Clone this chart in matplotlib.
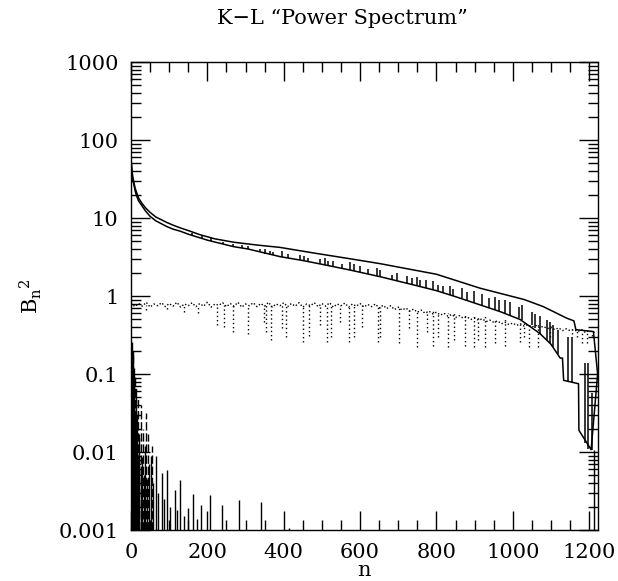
import matplotlib
matplotlib.use("Agg")
import matplotlib.pyplot as plt
from matplotlib.ticker import MultipleLocator, LogLocator, FuncFormatter, NullFormatter

plt.rcParams.update({
    "font.family": "serif",
    "font.serif": ["DejaVu Serif"],
    "mathtext.fontset": "dejavuserif",
    "font.size": 15,
    "lines.linewidth": 1.0,
})

# smooth upper curve
upper_n = [0, 1, 2, 3, 5, 8, 11, 15, 20, 28, 38, 50, 65, 93, 110, 128, 150, 181, 220, 268,
           330, 390, 480, 574, 652, 800, 914, 967, 1030, 1080, 1141, 1160, 1165, 1211, 1222]
upper_v = [60, 50, 44, 39, 33, 28, 24, 21, 18, 15.6, 13.5, 11.8, 10.3, 8.8, 8.1, 7.5, 6.9, 6.1,
           5.4, 4.9, 4.5, 4.2, 3.55, 3.0, 2.6, 1.9, 1.26, 1.08, 0.9, 0.73, 0.52, 0.48, 0.37, 0.35, 0.10]

# noisy lower curve (baseline)
lower_n = [0, 1, 2, 3, 5, 8, 11, 15, 20, 28, 38, 50, 65, 93, 110, 128, 150, 200, 268, 307,
           390, 450, 500, 574, 652, 700, 750, 800, 850, 914, 967, 1019, 1071, 1100, 1124, 1130,
           1133, 1172, 1173, 1205, 1222]
lower_v = [57, 47, 41, 36, 30.5, 26, 22, 19, 16.5, 14.5, 12.3, 10.5, 9.2, 7.8, 7.2, 6.8, 6.2,
           5.2, 4.3, 4.0, 3.2, 2.85, 2.55, 2.15, 1.77, 1.55, 1.35, 1.17, 0.98, 0.77, 0.63, 0.50,
           0.33, 0.24, 0.16, 0.16, 0.083, 0.075, 0.019, 0.0107, 0.1]

# upward spikes on the lower curve
spike_n = [160, 185, 210, 242, 268, 290, 307, 338, 351, 364, 373, 395, 412, 443, 452, 464, 495,
           508, 517, 530, 552, 574, 583, 600, 620, 644, 652, 683, 696, 722, 735, 748, 756, 773,
           791, 804, 818, 835, 844, 866, 880, 897, 919, 937, 954, 963, 980, 993, 1015, 1024, 1050,
           1058, 1071, 1089, 1098, 1106, 1119, 1145, 1154, 1189, 1198, 1207]
spike_base = [6.0, 5.6, 5.1, 4.6, 4.3, 4.15, 4.0, 3.65, 3.5, 3.4, 3.35, 3.2, 3.08, 2.9, 2.85,
              2.78, 2.6, 2.5, 2.45, 2.4, 2.27, 2.15, 2.1, 2.02, 1.92, 1.8, 1.77, 1.62, 1.57, 1.46,
              1.40, 1.36, 1.33, 1.27, 1.2, 1.15, 1.10, 1.04, 1.0, 0.93, 0.88, 0.82, 0.76, 0.71,
              0.66, 0.64, 0.6, 0.57, 0.52, 0.49, 0.42, 0.39, 0.33, 0.27, 0.25, 0.22, 0.18, 0.08,
              0.079, 0.013, 0.011, 0.0107]
spike_top = [6.4, 6.0, 5.5, 4.9, 4.7, 4.45, 4.4, 4.05, 4.05, 3.8, 3.7, 3.8, 3.45, 3.35, 3.3,
             3.05, 3.0, 3.05, 2.85, 2.8, 2.6, 2.75, 2.55, 2.42, 2.2, 2.3, 2.15, 1.88, 2.0, 1.78,
             1.71, 1.74, 1.62, 1.62, 1.54, 1.40, 1.36, 1.33, 1.22, 1.25, 1.12, 1.16, 1.07, 0.95,
             0.98, 0.90, 0.89, 0.83, 0.73, 0.76, 0.63, 0.58, 0.55, 0.49, 0.46, 0.42, 0.37, 0.30,
             0.30, 0.14, 0.14, 0.057]

# dotted series (band around 0.75)
dot_n = list(range(0, 1221, 10))
dot_v = [0.82, 0.73, 0.80, 0.74, 0.83, 0.72, 0.79, 0.75, 0.82, 0.73, 0.80, 0.74, 0.83, 0.72,
         0.79, 0.75, 0.82, 0.73, 0.80, 0.74, 0.83, 0.72, 0.79, 0.76, 0.82, 0.73, 0.80, 0.74,
         0.83, 0.72, 0.79, 0.75, 0.82, 0.73, 0.80, 0.74, 0.83, 0.72, 0.79, 0.75, 0.82, 0.73,
         0.80, 0.74, 0.82, 0.72, 0.79, 0.75, 0.82, 0.73, 0.80, 0.74, 0.82, 0.72, 0.79, 0.75,
         0.81, 0.72, 0.79, 0.74, 0.80, 0.72, 0.78, 0.73, 0.79, 0.70, 0.76, 0.69, 0.75, 0.67,
         0.72, 0.66, 0.70, 0.64, 0.68, 0.62, 0.66, 0.60, 0.64, 0.59, 0.62, 0.57, 0.60, 0.55,
         0.58, 0.53, 0.56, 0.52, 0.54, 0.50, 0.52, 0.49, 0.51, 0.47, 0.49, 0.46, 0.48, 0.44,
         0.46, 0.43, 0.45, 0.42, 0.44, 0.41, 0.43, 0.40, 0.42, 0.39, 0.41, 0.38, 0.40, 0.37,
         0.39, 0.36, 0.38, 0.36, 0.37, 0.35, 0.37, 0.34, 0.36, 0.34, 0.35]

# downward dips of the dotted series
dip_n = [40, 95, 140, 176, 224, 244, 268, 307, 347, 354, 366, 395, 406, 451, 465, 495, 513, 523,
         548, 572, 584, 604, 648, 652, 703, 727, 748, 775, 790, 805, 831, 845, 875, 897, 910, 927,
         954, 980, 1019, 1028, 1041, 1067, 1098, 1155, 1168, 1181, 1194, 1207]
dip_low = [0.66, 0.68, 0.63, 0.60, 0.42, 0.40, 0.35, 0.33, 0.46, 0.35, 0.27, 0.39, 0.30, 0.26,
           0.31, 0.42, 0.26, 0.30, 0.46, 0.26, 0.30, 0.40, 0.26, 0.30, 0.25, 0.39, 0.22, 0.35,
           0.23, 0.30, 0.22, 0.27, 0.23, 0.22, 0.27, 0.22, 0.25, 0.23, 0.26, 0.30, 0.22, 0.22,
           0.30, 0.33, 0.30, 0.25, 0.25, 0.31]
dip_top = [0.76] * 22 + [0.73, 0.73, 0.70, 0.68, 0.67, 0.65, 0.64, 0.63, 0.61, 0.60, 0.58, 0.56,
                         0.56, 0.55, 0.53, 0.51, 0.48, 0.47, 0.46, 0.44, 0.42, 0.38, 0.37, 0.37,
                         0.36, 0.35]

# small coefficients near the bottom (solid)
bot_n = [1, 2, 3, 4, 5, 6, 7, 8, 9, 10, 12, 13, 15, 17, 19, 22, 25, 28, 33, 36, 42, 47, 52, 58,
         65, 72, 80, 87, 94, 102, 114, 121, 128, 140, 148, 163, 174, 183, 207, 238, 284, 341, 414, 1212]
bot_top = [0.15, 0.09, 0.26, 0.12, 0.2, 0.06, 0.1, 0.04, 0.08, 0.03, 0.05, 0.02, 0.012, 0.03,
           0.008, 0.015, 0.006, 0.0086, 0.005, 0.012, 0.0045, 0.007, 0.0088, 0.004, 0.0089, 0.003,
           0.0054, 0.0025, 0.0058, 0.002, 0.0033, 0.0018, 0.0044, 0.0015, 0.0019, 0.0029, 0.0014,
           0.0021, 0.0028, 0.0021, 0.0024, 0.0023, 0.00105, 0.0107]

# small coefficients near the bottom (dashed)
dash_n = [4, 8, 11, 14, 18, 21, 26, 31, 38, 44, 56]
dash_top = [0.2, 0.12, 0.1, 0.07, 0.05, 0.017, 0.04, 0.02, 0.032, 0.017, 0.012]

fig = plt.figure(figsize=(6.18, 5.81), dpi=100)
ax = fig.add_axes([131 / 618, 51 / 581, 467 / 618, 468 / 581])

ax.plot(upper_n, upper_v, color="black", lw=1.1)
ax.plot(lower_n, lower_v, color="black", lw=1.1)
ax.vlines(spike_n, spike_base, spike_top, color="black", lw=1.1)

ax.plot(dot_n, dot_v, color="black", lw=1.0, linestyle=(0, (1, 1.5)))
ax.vlines(dip_n, dip_low, dip_top, color="black", lw=1.0, linestyles=[(0, (1, 2))])

ax.vlines(bot_n, 1e-3, bot_top, color="black", lw=1.0)
ax.vlines(dash_n, 1e-3, dash_top, color="black", lw=1.0, linestyles=[(0, (6, 2))])

ax.set_yscale("log")
ax.set_xlim(0, 1223)
ax.set_ylim(1e-3, 1e3)

ax.xaxis.set_major_locator(MultipleLocator(200))
ax.xaxis.set_minor_locator(MultipleLocator(50))
ax.yaxis.set_major_locator(LogLocator(base=10))
ax.yaxis.set_minor_locator(LogLocator(base=10, subs=range(2, 10)))
ax.yaxis.set_major_formatter(FuncFormatter(lambda v, p: "%g" % v))
ax.yaxis.set_minor_formatter(NullFormatter())

ax.tick_params(which="both", direction="in", top=True, right=True, width=1.0)
ax.tick_params(which="major", length=14, pad=9)
ax.tick_params(which="minor", length=7)
for s in ax.spines.values():
    s.set_linewidth(1.0)

# axis labels and title placed as in the original
fig.text(364 / 618, 1 - 576 / 581, "n", ha="center", va="baseline")
ax.set_ylabel(r"B$_{\rm n}$$^{\rm 2}$", labelpad=10)
fig.text(342 / 618, 1 - 18 / 581, "K\u2212L \u201cPower Spectrum\u201d", ha="center", va="center")

fig.savefig("out.png", dpi=100)
